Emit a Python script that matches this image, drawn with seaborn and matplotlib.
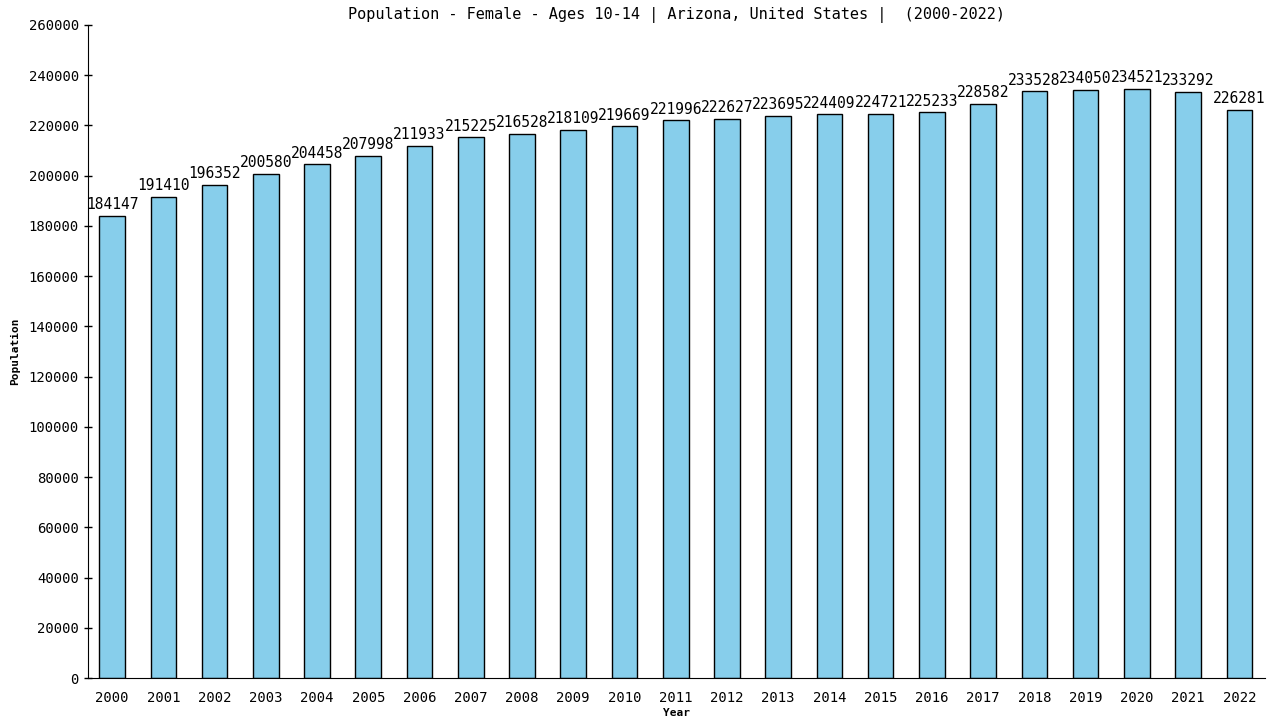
import pandas as pd
import seaborn as sns
import matplotlib.pyplot as plt

years = list(range(2000, 2023))
population = [184147, 191410, 196352, 200580, 204458, 207998, 211933, 215225,
              216528, 218109, 219669, 221996, 222627, 223695, 224409, 224721,
              225233, 228582, 233528, 234050, 234521, 233292, 226281]

df = pd.DataFrame({"Year": [str(y) for y in years], "Population": population})

sns.set_style("white")
plt.rcParams["font.family"] = ["DejaVu Sans Mono"]
plt.rcParams["text.color"] = "black"
plt.rcParams["axes.labelcolor"] = "black"
plt.rcParams["xtick.color"] = "black"
plt.rcParams["ytick.color"] = "black"

fig = plt.figure(figsize=(12.8, 7.2), dpi=100)
ax = fig.add_axes([0.06875, 0.0583, 0.9195, 0.907])

sns.barplot(data=df, x="Year", y="Population", color="skyblue",
            edgecolor="black", linewidth=1, width=0.5, saturation=1, ax=ax)

# value labels on top of each bar
for i, v in enumerate(population):
    ax.text(i, v + 1500, str(v), ha="center", va="bottom", fontsize=10.5, color="black")

ax.set_ylim(0, 260000)
ax.set_xlim(-0.47, 22.5)
ax.set_yticks(range(0, 260001, 20000))
ax.tick_params(axis="y", left=True, labelsize=10, length=6, width=1, direction="inout")
ax.tick_params(axis="x", bottom=False, labelsize=10, pad=6)
ax.set_title("Population - Female - Ages 10-14 | Arizona, United States |  (2000-2022)",
             fontsize=11, pad=4, color="black")
ax.set_xlabel("Year", fontsize=8, fontweight="bold", labelpad=2)
ax.set_ylabel("Population", fontsize=8, fontweight="bold", labelpad=6)
sns.despine(ax=ax)
ax.spines["left"].set_color("black")
ax.spines["bottom"].set_color("black")

fig.savefig("out.png", dpi=100)
